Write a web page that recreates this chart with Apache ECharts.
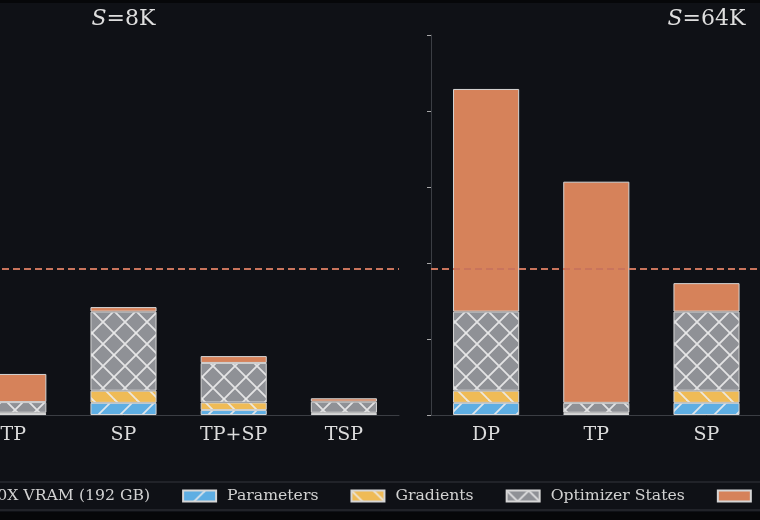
<!DOCTYPE html>
<html>
<head>
<meta charset="utf-8">
<script src="https://cdn.jsdelivr.net/npm/echarts@6/dist/echarts.min.js"></script>
<style>
  html, body { margin: 0; padding: 0; width: 760px; height: 520px; overflow: hidden; background: #060709; }
  /* the figure is wider than the window: only the middle part is shown */
  #chart { position: absolute; left: -260px; top: 3px; width: 1270px; height: 509px; background: #0f1116; }
</style>
</head>
<body>
<div id="chart"></div>
<script>
// memory per GPU (GB), stacked: params / grads / optimizer / activations
const categories = ['DP', 'TP', 'SP', 'TP+SP', 'TSP']
const params8K = [16, 1.5, 16, 6.5, 1.5]
const grads8K = [16, 1.5, 16, 10, 1.5]
const optim8K = [104, 14, 104, 52, 14.5]
const act8K = [37, 37, 6, 9, 4.5]
const params64K = [16, 1.5, 16, 6.5, 1.5]
const grads64K = [16, 1.5, 16, 10, 1.5]
const optim64K = [104, 13, 104, 52, 14.5]
const act64K = [293, 291, 37.5, 73, 36]
const seriesNames = ['Parameters', 'Gradients', 'Optimizer States', 'Activations']
const panelTitles = ['{i|S}=8K', '{i|S}=64K']
const vramName = 'MI300X VRAM (192 GB)'
const vramGB = 192
const yMax = 500
const yStep = 100

// hatch fills like matplotlib '/', '\\', 'x'
function hatch (base, dirs) {
  const s = 22
  const c = document.createElement('canvas')
  c.width = s
  c.height = s
  const g = c.getContext('2d')
  g.fillStyle = base
  g.fillRect(0, 0, s, s)
  if (!dirs) return c
  g.strokeStyle = 'rgba(236,236,236,0.9)'
  g.lineWidth = 1.8
  for (const off of [-s, 0, s]) {
    g.beginPath()
    if (dirs.includes('/')) {
      g.moveTo(off - 1, s + 1)
      g.lineTo(off + s + 1, -1)
    }
    if (dirs.includes('\\')) {
      g.moveTo(off - 1, -1)
      g.lineTo(off + s + 1, s + 1)
    }
    g.stroke()
  }
  return c
}

const fills = [
  { image: hatch('#5eaee3', '/'), repeat: 'repeat' },
  { image: hatch('#efbb56', '\\'), repeat: 'repeat' },
  { image: hatch('#8f9196', '/\\'), repeat: 'repeat' },
  '#d6825a'
]

const panelData = [
  [params8K, grads8K, optim8K, act8K],
  [params64K, grads64K, optim64K, act64K]
]
const gridLefts = [108, 691]
const gridWidth = 551

const series = []
panelData.forEach((rows, k) => {
  rows.forEach((vals, i) => {
    series.push({
      name: seriesNames[i],
      type: 'bar',
      stack: 'p' + k,
      xAxisIndex: k,
      yAxisIndex: k,
      barWidth: '60%',
      data: vals,
      itemStyle: { color: fills[i], borderColor: '#d6d6d6', borderWidth: 1 }
    })
  })
  series.push({
    name: vramName,
    type: 'line',
    xAxisIndex: k,
    yAxisIndex: k,
    symbol: 'none',
    data: categories.map(() => null),
    lineStyle: { color: '#c9745c', width: 2, type: [7, 4] },
    itemStyle: { color: '#c9745c' },
    markLine: {
      silent: true,
      symbol: 'none',
      label: { show: false },
      lineStyle: { color: '#c9745c', width: 2, type: [7, 4] },
      data: [{ yAxis: vramGB }]
    }
  })
})

const chart = echarts.init(document.getElementById('chart'))
chart.setOption({
  animation: false,
  backgroundColor: '#0f1116',
  textStyle: { fontFamily: 'DejaVu Serif' },
  title: panelTitles.map((t, k) => ({
    text: t,
    left: gridLefts[k] + gridWidth / 2,
    top: 5,
    padding: 0,
    textAlign: 'center',
    textStyle: {
      color: '#dedede',
      fontSize: 22,
      fontWeight: 'normal',
      fontFamily: 'DejaVu Serif',
      rich: { i: { fontStyle: 'italic', fontSize: 22, color: '#dedede', fontFamily: 'DejaVu Serif' } }
    }
  })),
  legend: {
    data: [vramName].concat(seriesNames),
    icon: 'rect',
    left: 159,
    top: 479,
    padding: [6, 12],
    itemWidth: 33,
    itemHeight: 11,
    itemGap: 32,
    borderColor: '#34373d',
    borderWidth: 1,
    borderRadius: 4,
    textStyle: { color: '#d2d2d2', fontSize: 15.7, fontFamily: 'DejaVu Serif', padding: [0, 0, 0, 6] }
  },
  grid: gridLefts.map(l => ({ left: l, width: gridWidth, top: 32, height: 380 })),
  xAxis: [0, 1].map(k => ({
    type: 'category',
    gridIndex: k,
    data: categories,
    axisLine: { lineStyle: { color: '#3b3e44' } },
    axisTick: { alignWithLabel: true, length: 4, lineStyle: { color: '#8c8c8c' } },
    axisLabel: { color: '#dcdcdc', fontSize: 19, margin: 11, fontFamily: 'DejaVu Serif' }
  })),
  yAxis: [0, 1].map(k => ({
    type: 'value',
    gridIndex: k,
    min: 0,
    max: yMax,
    interval: yStep,
    splitLine: { show: false },
    axisLine: { show: true, lineStyle: { color: '#3b3e44' } },
    axisTick: { show: true, length: 4, lineStyle: { color: '#a8a8a8' } },
    axisLabel: { show: k === 0, color: '#dcdcdc', fontSize: 16 }
  })),
  series: series
})
</script>
</body>
</html>
